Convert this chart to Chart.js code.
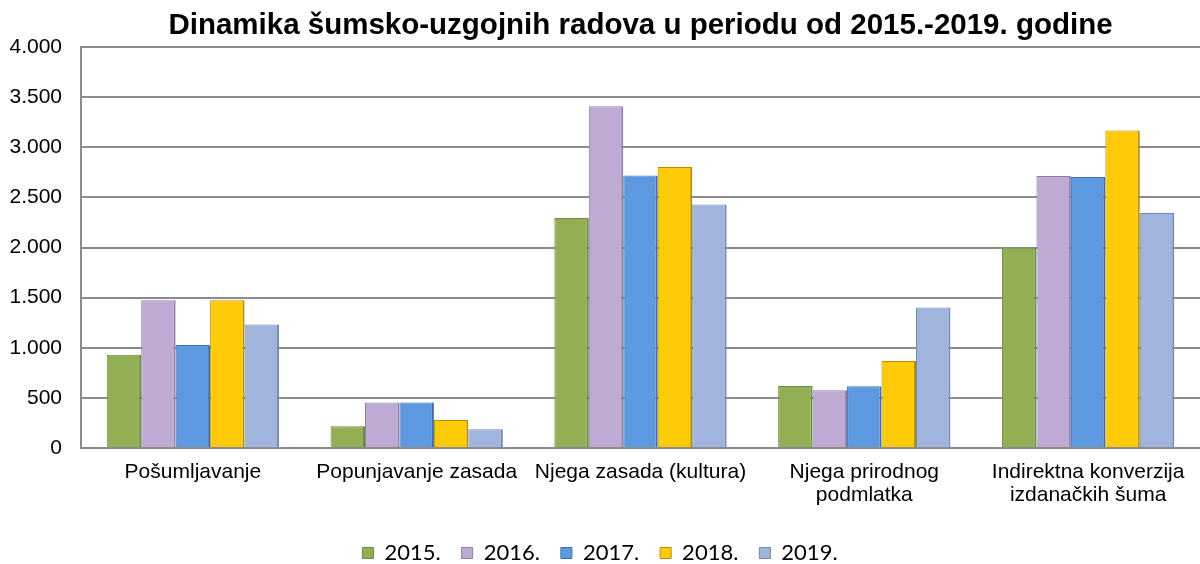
<!DOCTYPE html>
<html>
<head>
<meta charset="utf-8">
<script src="https://cdn.jsdelivr.net/npm/chart.js@4/dist/chart.umd.min.js"></script>
<style>
  html, body { margin: 0; padding: 0; background: #fff; }
  #wrap { width: 1200px; height: 564px; }
</style>
</head>
<body>
<div id="wrap"><canvas id="chart"></canvas></div>
<script>
// ===== DATA =====
const categories = [
  'Pošumljavanje',
  'Popunjavanje zasada',
  'Njega zasada (kultura)',
  ['Njega prirodnog', 'podmlatka'],
  ['Indirektna konverzija', 'izdanačkih šuma']
];
const years = ['2015.', '2016.', '2017.', '2018.', '2019.'];
const v2015 = [930, 217, 2295, 618, 2000];
const v2016 = [1473, 454, 3410, 575, 2713];
const v2017 = [1027, 454, 2719, 615, 2703];
const v2018 = [1473, 280, 2803, 867, 3167];
const v2019 = [1233, 187, 2430, 1401, 2345];
const yTicks = [0, 500, 1000, 1500, 2000, 2500, 3000, 3500, 4000];

const fills = ['#93AF55', '#BEABD3', '#5C99E0', '#FFCA08', '#A0B4DD'];
const edges = ['#6E8A3A', '#8E7DA6', '#3A6EB0', '#B58F00', '#7587AE'];

const fmt = v => String(v).replace(/\B(?=(\d{3})+(?!\d))/g, '.');

const ctx = document.getElementById('chart');
new Chart(ctx, {
  type: 'bar',
  data: {
    labels: categories,
    datasets: [v2015, v2016, v2017, v2018, v2019].map((d, i) => ({
      label: years[i],
      data: d,
      backgroundColor: fills[i],
      borderColor: edges[i],
      borderWidth: { top: 1, right: 2, bottom: 0, left: 1 },
      categoryPercentage: 0.77,
      barPercentage: 1.0
    }))
  },
  options: {
    responsive: true,
    maintainAspectRatio: false,
    animation: false,
    layout: { padding: { left: 0, right: 0, top: 0, bottom: -10 } },
    plugins: {
      title: {
        display: true,
        text: 'Dinamika šumsko-uzgojnih radova u periodu od 2015.-2019. godine',
        fullSize: false,
        color: '#000',
        font: { family: 'Liberation Sans, Arial', size: 29.5, weight: 'bold' },
        padding: { top: 8, bottom: 3.6 }
      },
      legend: {
        position: 'bottom',
        labels: {
          color: '#000',
          font: { family: 'Lato, Open Sans', size: 22 },
          boxWidth: 11,
          boxHeight: 11,
          padding: 21
        }
      },
      tooltip: { enabled: false }
    },
    scales: {
      x: {
        grid: { display: false, drawTicks: false },
        border: { display: true, color: '#8C8C8C', width: 2 },
        ticks: {
          color: '#000',
          font: { family: 'Liberation Sans, Arial', size: 21, lineHeight: 1.1 },
          padding: 13,
          maxRotation: 0,
          autoSkip: false
        },
        afterFit: axis => { axis.height = 73; }
      },
      y: {
        min: 0,
        max: 4000,
        afterBuildTicks: axis => { axis.ticks = yTicks.map(v => ({ value: v })); },
        afterFit: axis => { axis.width = 81; },
        grid: { color: '#8C8C8C', lineWidth: 2, drawTicks: false },
        border: { display: true, color: '#8C8C8C', width: 2 },
        ticks: {
          color: '#000',
          font: { family: 'Liberation Sans, Arial', size: 21 },
          padding: 19,
          callback: v => fmt(v)
        }
      }
    }
  }
});
</script>
</body>
</html>
